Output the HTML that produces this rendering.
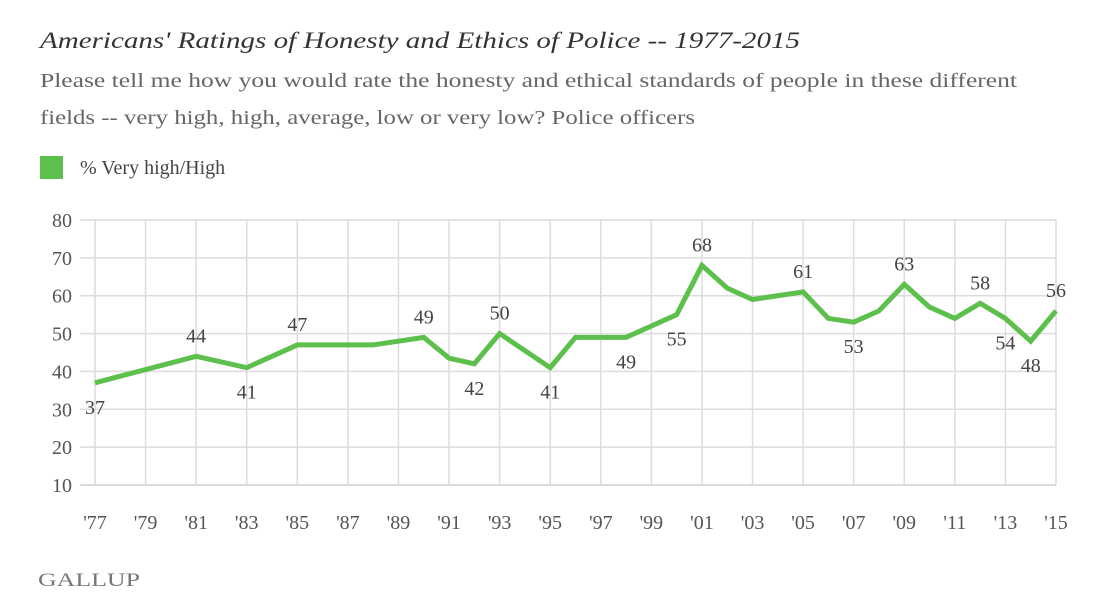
<!DOCTYPE html>
<html><head><meta charset="utf-8"><style>
html,body{margin:0;padding:0;background:#fff;}
svg{display:block;font-family:"Liberation Serif",serif;}
</style></head><body>
<svg id="chart" width="1104" height="612" viewBox="0 0 1104 612">
<text x="40" y="48" font-size="23" font-style="italic" fill="#333" textLength="760" lengthAdjust="spacingAndGlyphs">Americans' Ratings of Honesty and Ethics of Police -- 1977-2015</text>
<text x="40" y="87" font-size="20" fill="#666" textLength="977" lengthAdjust="spacingAndGlyphs">Please tell me how you would rate the honesty and ethical standards of people in these different</text>
<text x="40" y="124" font-size="20" fill="#666" textLength="655" lengthAdjust="spacingAndGlyphs">fields -- very high, high, average, low or very low? Police officers</text>
<rect x="40" y="156" width="23" height="23" fill="#5dbf4c"/>
<text x="80" y="174" font-size="20" fill="#444">% Very high/High</text>
<g id="grid"></g><g id="axes"></g><g id="series"></g><g id="labels"></g>
<text x="38" y="586" font-size="19" fill="#777" textLength="102" lengthAdjust="spacingAndGlyphs">GALLUP</text>
</svg>
<script>
const years=[1977,1979,1981,1983,1985,1988,1990,1991,1992,1993,1995,1996,1998,2000,2001,2002,2003,2005,2006,2007,2008,2009,2010,2011,2012,2013,2014,2015];
const values=[37,40.5,44,41,47,47,49,43.5,42,50,41,49,49,55,68,62,59,61,54,53,56,63,57,54,58,54,48,56];
const labelYears=[1977,1981,1983,1985,1990,1992,1993,1995,1998,2000,2001,2005,2007,2009,2012,2013,2014,2015];
const labelPos=['below','above','below','above','above','below','above','below','below','below','above','above','below','above','above','below','below','above'];
const yTicks=[10,20,30,40,50,60,70,80];
const xTickYears=[1977,1979,1981,1983,1985,1987,1989,1991,1993,1995,1997,1999,2001,2003,2005,2007,2009,2011,2013,2015];
const xTickLabels=["'77","'79","'81","'83","'85","'87","'89","'91","'93","'95","'97","'99","'01","'03","'05","'07","'09","'11","'13","'15"];
const NS='http://www.w3.org/2000/svg';
const X0=95,X1=1056,Y0=485,Y1=220,PL=80;
const xs=y=>X0+(y-1977)*(X1-X0)/(2015-1977);
const ys=v=>Y0-(v-10)*(Y0-Y1)/70;
function mk(tag,attrs,parent){const e=document.createElementNS(NS,tag);for(const k in attrs)e.setAttribute(k,attrs[k]);parent.appendChild(e);return e;}
const grid=document.getElementById('grid'),axes=document.getElementById('axes'),series=document.getElementById('series'),labels=document.getElementById('labels');
yTicks.forEach(t=>{
  const l=mk('line',{x1:PL,x2:X1,y1:ys(t),y2:ys(t),stroke:'#dcdcdc','stroke-width':t===10?2:1.5},grid);
  
  
  const tx=mk('text',{x:72,y:ys(t)+7,'font-size':20,fill:'#555','text-anchor':'end'},axes);
  tx.textContent=t;
  
  
});
xTickYears.forEach((yr,i)=>{
  const l=mk('line',{x1:xs(yr),x2:xs(yr),y1:Y1,y2:Y0,stroke:'#dcdcdc','stroke-width':1.5},grid);
  
  
  const tx=mk('text',{x:xs(yr),y:529,'font-size':20,fill:'#555','text-anchor':'middle'},axes);
  tx.textContent=xTickLabels[i];
  
  
});
const p=mk('polyline',{points:years.map((y,i)=>xs(y)+','+ys(values[i])).join(' '),fill:'none',stroke:'#5dbf4c','stroke-width':5,'stroke-linejoin':'miter'},series);


labelYears.forEach((yr,i)=>{
  const idx=years.indexOf(yr);const v=values[idx];
  const yy=labelPos[i]==='above'?ys(v)-14:ys(v)+31;
  const tx=mk('text',{x:xs(yr),y:yy,'font-size':20,fill:'#444','text-anchor':'middle'},labels);
  tx.textContent=Math.round(v);
  
  
});
</script>
</body></html>
